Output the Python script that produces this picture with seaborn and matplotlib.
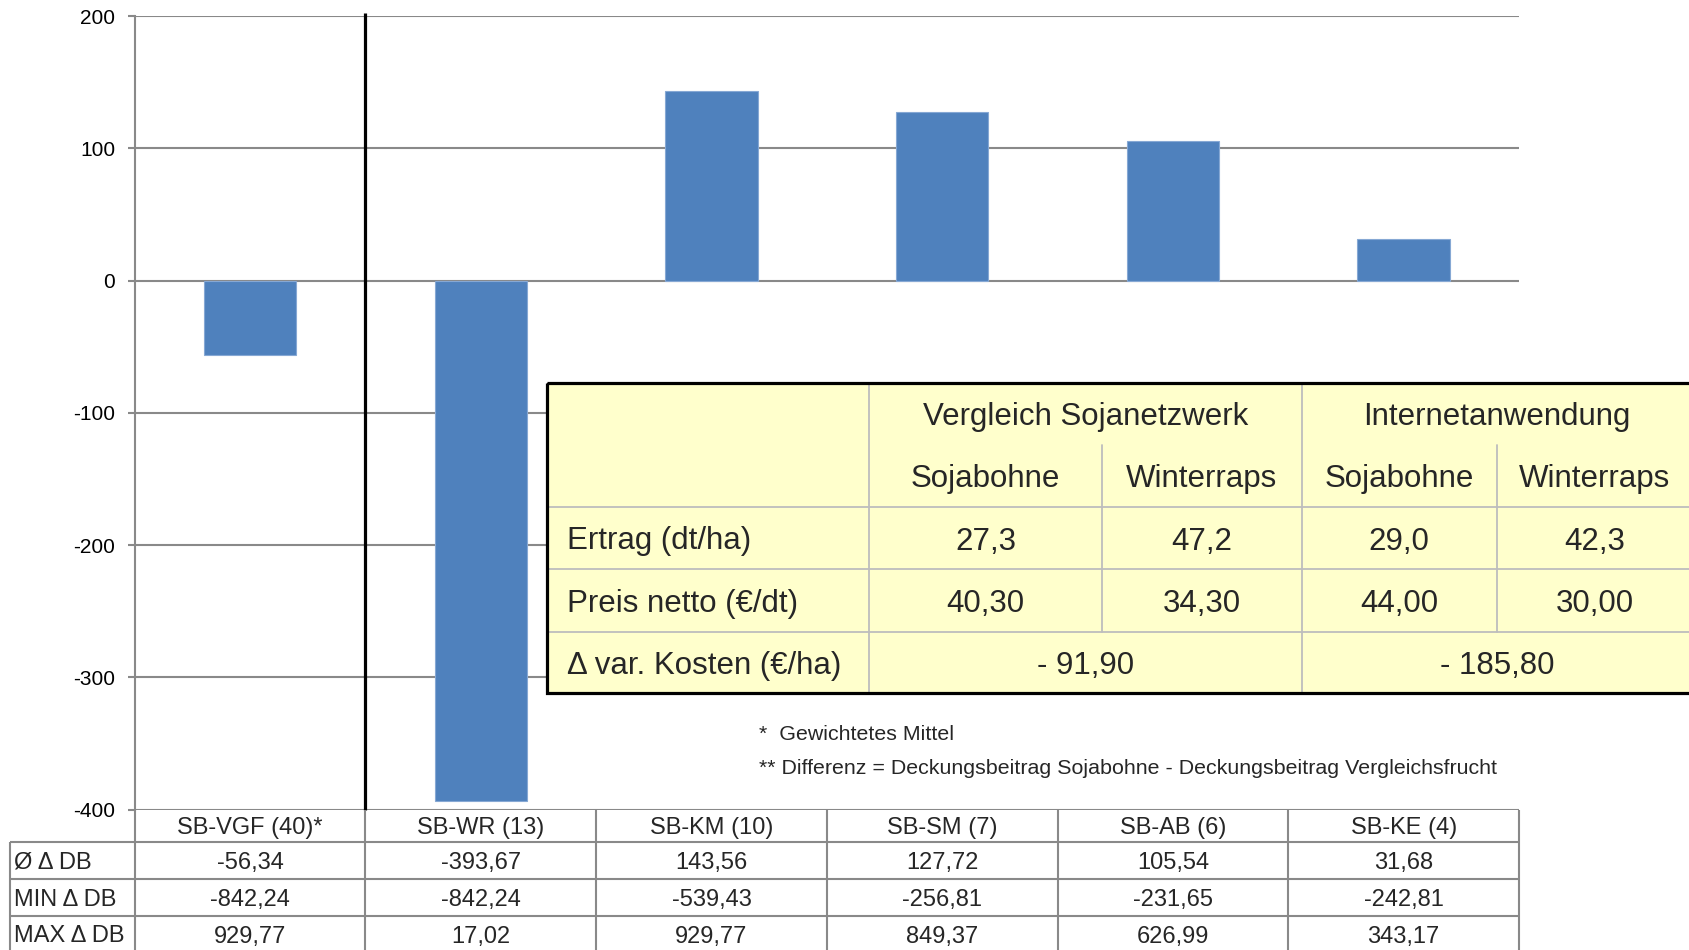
import matplotlib
matplotlib.use("Agg")
import matplotlib.pyplot as plt
import seaborn as sns
import pandas as pd
from matplotlib.patches import Rectangle

# ---------------- data ----------------
categories = ["SB-VGF (40)*", "SB-WR (13)", "SB-KM (10)", "SB-SM (7)", "SB-AB (6)", "SB-KE (4)"]
mean_delta_db = [-56.34, -393.67, 143.56, 127.72, 105.54, 31.68]
min_delta_db = [-842.24, -842.24, -539.43, -256.81, -231.65, -242.81]
max_delta_db = [929.77, 17.02, 929.77, 849.37, 626.99, 343.17]
row_labels = ["Ø Δ DB", "MIN Δ DB", "MAX Δ DB"]
y_ticks = [-400, -300, -200, -100, 0, 100, 200]

inset_groups = ["Vergleich Sojanetzwerk", "Internetanwendung"]
inset_crops = ["Sojabohne", "Winterraps", "Sojabohne", "Winterraps"]
inset_row_labels = ["Ertrag (dt/ha)", "Preis netto (€/dt)", "Δ var. Kosten (€/ha)"]
ertrag = ["27,3", "47,2", "29,0", "42,3"]
preis = ["40,30", "34,30", "44,00", "30,00"]
var_kosten = ["- 91,90", "- 185,80"]
footnotes = ["*  Gewichtetes Mittel",
             "** Differenz = Deckungsbeitrag Sojabohne - Deckungsbeitrag Vergleichsfrucht"]

def de(v):
    return f"{v:.2f}".replace(".", ",")

# ---------------- style ----------------
sns.set_style("white")
plt.rcParams['font.family'] = ['Liberation Sans', 'DejaVu Sans']

W, H = 1689, 950
GRID = "#898989"
BAR = "#4F81BD"

fig = plt.figure(figsize=(W / 100, H / 100), dpi=100)

ax_l, ax_r, ax_t, ax_b = 134.7, 1519.0, 16.2, 809.5
ax = fig.add_axes([ax_l / W, 1 - ax_b / H, (ax_r - ax_l) / W, (ax_b - ax_t) / H])

df = pd.DataFrame({"cat": categories, "val": mean_delta_db})
sns.barplot(data=df, x="cat", y="val", color=BAR, saturation=1, width=0.4,
            edgecolor="#86A8D4", linewidth=0.8, ax=ax, zorder=3)
ax.set_xlim(-0.5, len(categories) - 0.5)
ax.set_ylim(-400, 200)
ax.set_yticks(y_ticks)
ax.set_yticklabels([str(t) for t in y_ticks], fontsize=15, color="black")
ax.set_xticks([])
ax.set_xlabel("")
ax.set_ylabel("")
ax.yaxis.grid(True, color=GRID, lw=1.5)
ax.xaxis.grid(False)
ax.set_axisbelow(True)
for s in ["top", "right", "bottom"]:
    ax.spines[s].set_visible(False)
ax.spines["left"].set_color(GRID)
ax.spines["left"].set_linewidth(1.5)
ax.tick_params(axis="y", which="major", left=True, length=5, width=1.5, color=GRID, pad=9)

# black divider between first and other categories
ax.vlines(0.5, -400, 202.4, colors="black", lw=2.3, clip_on=False, zorder=4)

# ---------------- overlay in pixel coordinates ----------------
fig.canvas.draw()
def xpx(v):
    return ax.transData.transform((v, 0))[0]

ov = fig.add_axes([0, 0, 1, 1], zorder=10)
ov.set_xlim(0, W)
ov.set_ylim(H, 0)
ov.axis("off")

# bottom data table
bx = [xpx(i - 0.5) for i in range(len(categories) + 1)]
lx = 10.5
rows_y = [ax_b, 842.3, 879.3, 916.0, 953.0]
for y in rows_y[1:]:
    ov.plot([lx, bx[-1]], [y, y], color=GRID, lw=1.5, solid_capstyle="butt")
for x in bx:
    ov.plot([x, x], [ax_b, rows_y[-1]], color=GRID, lw=1.5, solid_capstyle="butt")
ov.plot([lx, lx], [rows_y[1], rows_y[-1]], color=GRID, lw=1.5, solid_capstyle="butt")

TFS = 17
TDY = 2
for i, c in enumerate(categories):
    cx = (bx[i] + bx[i + 1]) / 2
    ov.text(cx, (rows_y[0] + rows_y[1]) / 2 + TDY, c, ha="center", va="center", fontsize=TFS)
    for r, vals in enumerate([mean_delta_db, min_delta_db, max_delta_db]):
        cy = (rows_y[r + 1] + rows_y[r + 2]) / 2 + TDY
        ov.text(cx, cy, de(vals[i]), ha="center", va="center", fontsize=TFS)
for r, lab in enumerate(row_labels):
    cy = (rows_y[r + 1] + rows_y[r + 2]) / 2 + TDY
    ov.text(14, cy, lab, ha="left", va="center", fontsize=TFS)

# inset table
cols = [546.7, 869.0, 1102.0, 1301.7, 1496.7, 1692.0]
rws = [382.7, 445.0, 506.7, 569.3, 631.7, 692.7]
ov.add_patch(Rectangle((cols[0], rws[0]), cols[-1] - cols[0], rws[-1] - rws[0],
                       facecolor="#FFFFCC", edgecolor="none", zorder=1))
IL = "#BDBDBD"
for y in rws[2:5]:
    ov.plot([cols[0], cols[-1]], [y, y], color=IL, lw=1.3, zorder=2)
for x in [cols[1], cols[3]]:
    ov.plot([x, x], [rws[0], rws[-1]], color=IL, lw=1.3, zorder=2)
for x in [cols[2], cols[4]]:
    ov.plot([x, x], [rws[1], rws[4]], color=IL, lw=1.3, zorder=2)
ov.add_patch(Rectangle((cols[0], rws[0]), cols[-1] - cols[0], rws[-1] - rws[0],
                       facecolor="none", edgecolor="black", lw=2.3, zorder=3, clip_on=False))

IFS = 22.5
IDY = 3.5
ov.text((cols[1] + cols[3]) / 2, (rws[0] + rws[1]) / 2 + IDY, inset_groups[0], ha="center", va="center", fontsize=IFS)
ov.text((cols[3] + cols[5]) / 2, (rws[0] + rws[1]) / 2 + IDY, inset_groups[1], ha="center", va="center", fontsize=IFS)
for j, crop in enumerate(inset_crops):
    cx = (cols[j + 1] + cols[j + 2]) / 2
    ov.text(cx, (rws[1] + rws[2]) / 2 + IDY, crop, ha="center", va="center", fontsize=IFS)
    ov.text(cx, (rws[2] + rws[3]) / 2 + IDY, ertrag[j], ha="center", va="center", fontsize=IFS)
    ov.text(cx, (rws[3] + rws[4]) / 2 + IDY, preis[j], ha="center", va="center", fontsize=IFS)
ov.text((cols[1] + cols[3]) / 2, (rws[4] + rws[5]) / 2 + IDY, var_kosten[0], ha="center", va="center", fontsize=IFS)
ov.text((cols[3] + cols[5]) / 2, (rws[4] + rws[5]) / 2 + IDY, var_kosten[1], ha="center", va="center", fontsize=IFS)
for r, lab in enumerate(inset_row_labels):
    ov.text(567, (rws[r + 2] + rws[r + 3]) / 2 + IDY, lab, ha="left", va="center", fontsize=IFS)

# footnotes
ov.text(759, 735, footnotes[0], ha="left", va="center", fontsize=15.4)
ov.text(759, 768, footnotes[1], ha="left", va="center", fontsize=15.4)

fig.savefig("out.png", dpi=100)
